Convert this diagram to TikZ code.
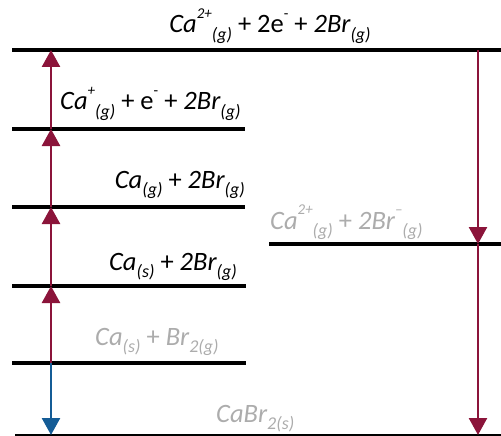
\documentclass[tikz,border=0pt]{standalone}
\usepackage{fontspec}
\setmainfont{Carlito}
\usetikzlibrary{positioning, arrows.meta}
\definecolor{crimson}{RGB}{139,20,58}
\definecolor{steel}{RGB}{20,92,150}
\definecolor{faded}{RGB}{172,172,172}
\newcommand{\lo}[1]{\raisebox{-0.3em}{\fontsize{18}{18}\selectfont #1}}
\newcommand{\hi}[1]{\raisebox{0.55em}{\fontsize{15}{15}\selectfont #1}}

\begin{document}
\begin{tikzpicture}[
    x=1pt, y=-1pt,
    level/.style={line width=4pt},
    floor/.style={line width=2pt},
    lbl/.style={font=\fontsize{26.5}{30}\selectfont\itshape, inner sep=0pt},
    arr/.style={-{Triangle[width=18pt,length=17pt]}, line width=2.5pt, crimson},
    back/.style={arr, steel}
]
    \useasboundingbox (0,0) rectangle (501,436);

    % energy levels
    \draw[level] (12,50) -- (501,50);
    \draw[level] (12,129) -- (245,129);
    \draw[level] (12,207) -- (245,207);
    \draw[level] (269,244) -- (501,244);
    \draw[level] (12,286) -- (246,286);
    \draw[level] (12,363) -- (246,363);
    \draw[floor] (15,435) -- (501,435);

    % arrow feet
    \coordinate (ion2) at (51,50);
    \coordinate (ion1) at (51,129);
    \coordinate (atom) at (51,207);
    \coordinate (sub) at (51,286);
    \coordinate (elem) at (51,363);
    \coordinate (salt) at (51,435);
    \coordinate (gasR) at (478,50);
    \coordinate (latt) at (478,244);
    \coordinate (saltR) at (478,435);

    % labels
    \node[lbl, anchor=base] (l0) at (270,33) {Ca\hi{2+}\lo{(g)} {\upshape + 2e\hi{-} +} 2Br\lo{(g)}};
    \node[lbl, anchor=base west] (l1) at (60,110) {Ca\hi{+}\lo{(g)} {\upshape + e\hi{-} +} 2Br\lo{(g)}};
    \node[lbl, anchor=base east] (l2) at (245,188) {Ca\lo{(g)} {\upshape +} 2Br\lo{(g)}};
    \node[lbl, anchor=base west, faded] (l3) at (270,229) {Ca\hi{2+}\lo{(g)} {\upshape +} 2Br\hi{--}\lo{(g)}};
    \node[lbl, anchor=base east] (l4) at (237,270) {Ca\lo{(s)} {\upshape +} 2Br\lo{(g)}};
    \node[lbl, anchor=base west, faded] (l5) at (95,345) {Ca\lo{(s)} {\upshape +} Br\lo{2(g)}};
    \node[lbl, anchor=base west, faded] (l6) at (216,422) {CaBr\lo{2(s)}};

    % cycle
    \draw[arr] (elem) -- (sub);
    \draw[arr] (sub) -- (atom);
    \draw[arr] (atom) -- (ion1);
    \draw[arr] (ion1) -- (ion2);
    \draw[back] (elem) -- (salt);
    \draw[arr] (gasR) -- (latt);
    \draw[arr] (latt) -- (saltR);
\end{tikzpicture}
\end{document}
